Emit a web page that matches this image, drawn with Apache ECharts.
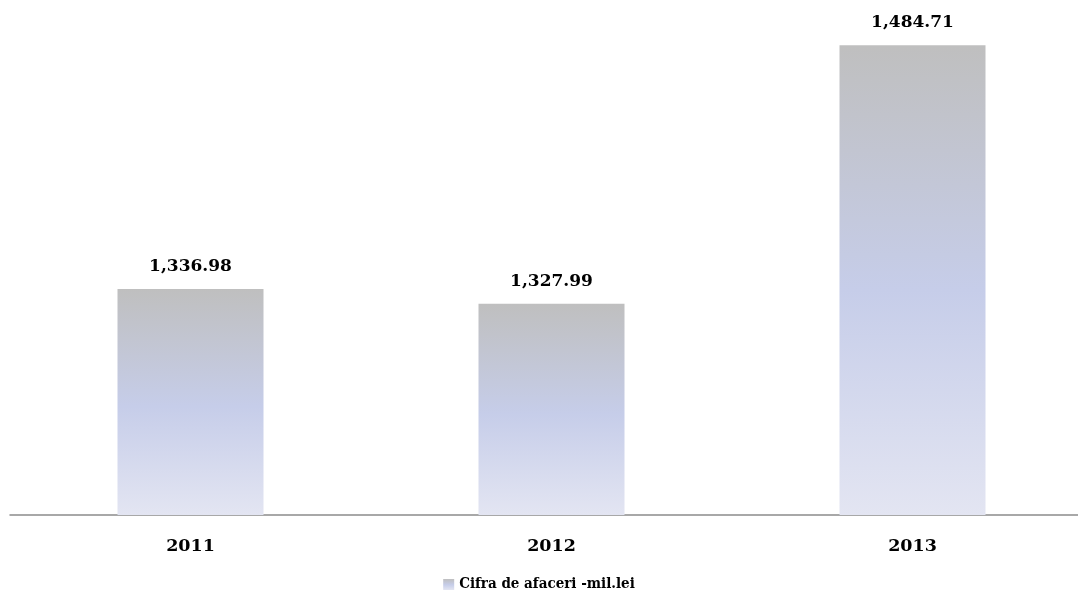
<!DOCTYPE html>
<html><head><meta charset="utf-8">
<script src="https://cdn.jsdelivr.net/npm/echarts@6/dist/echarts.min.js"></script>
<style>html,body{margin:0;padding:0;background:#fff}#c{width:1078px;height:600px}</style>
</head><body><div id="c"></div>
<script>
const categories = ['2011', '2012', '2013'];
const values = [1336.98, 1327.99, 1484.71];
const seriesName = 'Cifra de afaceri -mil.lei';

const grad = new echarts.graphic.LinearGradient(0, 0, 0, 1, [
  {offset: 0, color: '#bfbfbf'},
  {offset: 0.52, color: '#c6cde9'},
  {offset: 1, color: '#e3e5f2'}
]);
const font = 'DejaVu Serif';
const chart = echarts.init(document.getElementById('c'));
chart.setOption({
  animation: false,
  grid: {left: 10, width: 1083, top: 20, bottom: 85, containLabel: false, outerBoundsMode: 'none'},
  legend: {
    bottom: 3, left: 'center',
    itemWidth: 11, itemHeight: 11, itemGap: 4,
    textStyle: {fontFamily: "'DejaVu Serif Condensed', 'DejaVu Serif', serif", fontWeight: 'bold', fontSize: 15, color: '#000'},
    data: [{name: seriesName, icon: 'rect'}]
  },
  xAxis: {
    type: 'category', data: categories,
    axisLine: {lineStyle: {color: '#8c8c8c', width: 1.5}},
    axisTick: {show: false},
    axisLabel: {fontFamily: font, fontWeight: 'bold', fontSize: 17.5, color: '#000', margin: 22}
  },
  yAxis: {type: 'value', min: 1200, max: 1500, show: false, splitLine: {show: false}},
  series: [{
    name: seriesName, type: 'bar', data: values, barWidth: 146,
    itemStyle: {color: grad},
    label: {
      show: true, position: 'top', distance: 14,
      fontFamily: font, fontWeight: 'bold', fontSize: 17, color: '#000',
      formatter: p => p.value.toLocaleString('en-US', {minimumFractionDigits: 2, maximumFractionDigits: 2})
    }
  }]
});
</script></body></html>
